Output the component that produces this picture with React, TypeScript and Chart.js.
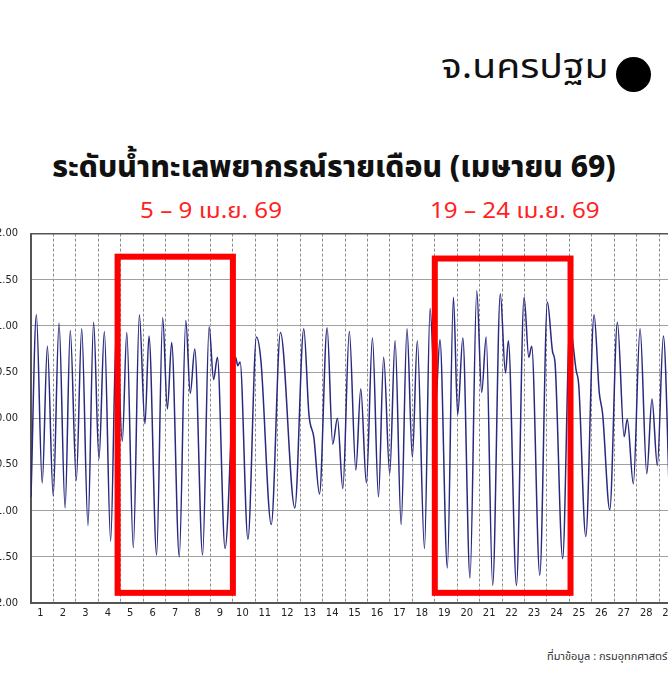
import React, { useEffect, useRef } from "react";
import { Chart, registerables } from "chart.js";

Chart.register(...registerables);

// ---- data ----
const DAY_LABELS = [
  "1", "2", "3", "4", "5", "6", "7", "8", "9", "10",
  "11", "12", "13", "14", "15", "16", "17", "18", "19", "20",
  "21", "22", "23", "24", "25", "26", "27", "28", "29", "30",
];

// time in days since 1 Apr 00:00, predicted level (m)
const TIDE_TIME = [
  0, 0.24, 0.5, 0.73, 0.99, 1.25, 1.52, 1.75, 2.02, 2.26,
  2.54, 2.79, 3.03, 3.27, 3.55, 3.81, 4.07, 4.27, 4.56, 4.83,
  5.08, 5.26, 5.6, 5.87, 6.08, 6.27, 6.61, 6.9, 7.1, 7.3,
  7.65, 7.94, 8.14, 8.31, 8.65, 9.12, 9.22, 9.32, 9.67, 10.05,
  10.25, 10.71, 11.12, 11.76, 12.16, 12.39, 12.61, 12.86, 13.2, 13.45,
  13.66, 13.9, 14.19, 14.48, 14.7, 14.95, 15.22, 15.49, 15.72, 15.99,
  16.23, 16.5, 16.76, 17.0, 17.22, 17.54, 17.79, 18.03, 18.23, 18.56,
  18.83, 19.02, 19.25, 19.57, 19.87, 20.09, 20.29, 20.58, 20.92, 21.15,
  21.28, 21.64, 21.98, 22.19, 22.32, 22.68, 23.02, 23.25, 23.36, 23.7,
  24.02, 24.3, 24.42, 24.73, 25.1, 25.33, 25.48, 25.8, 26.14, 26.44,
  26.58, 26.85, 27.15, 27.45, 27.68, 27.92, 28.19, 28.48,
];
const TIDE_LEVEL = [
  -0.85, 1.12, -0.7, 0.78, -0.84, 1.03, -0.97, 0.95, -0.67, 0.97,
  -1.16, 1.04, -0.44, 0.94, -1.33, 1.0, -0.25, 0.93, -1.4, 1.12,
  -0.06, 0.89, -1.48, 1.09, 0.1, 0.82, -1.5, 1.06, 0.27, 0.75,
  -1.48, 0.99, 0.42, 0.66, -1.41, 0.66, 0.57, 0.61, -1.31, 0.88,
  0.62, -1.15, 0.93, -0.97, 0.97, 0.04, -0.21, -0.82, 0.98, -0.28,
  0.0, -0.76, 0.94, -0.56, 0.32, -0.7, 0.87, -0.85, 0.66, -0.6,
  0.84, -1.15, 0.97, -0.42, 0.84, -1.41, 1.19, 0.15, 0.85, -1.62,
  1.31, 0.04, 0.87, -1.73, 1.38, 0.28, 0.88, -1.81, 1.35, 0.49,
  0.84, -1.81, 1.31, 0.66, 0.78, -1.7, 1.26, 0.72, 0.6, -1.52,
  1.0, 0.52, 0.35, -1.28, 1.12, 0.28, 0.05, -0.99, 1.04, -0.2,
  -0.01, -0.71, 0.97, -0.6, 0.21, -0.51, 0.89, -1.05,
];

const Y_MIN = -2;
const Y_MAX = 2;
const Y_STEP = 0.5;

// highlighted periods (days since 1 Apr) and their vertical extent (m)
const HIGHLIGHT_FROM = [3.86, 18.0];
const HIGHLIGHT_TO = [9.0, 24.05];
const HIGHLIGHT_TOP = [1.75, 1.73];
const HIGHLIGHT_BOTTOM = [-1.89, -1.89];
const HIGHLIGHT_LABELS = ["5 – 9 เม.ย. 69", "19 – 24 เม.ย. 69"];

const TITLE = "ระดับน้ำทะเลพยากรณ์รายเดือน (เมษายน 69)";
const PROVINCE = "จ.นครปฐม";
const SOURCE = "ที่มาข้อมูล : กรมอุทกศาสตร์ กองทัพเรือ";

const THAI_FONT = '"Noto Sans Thai", "Noto Sans Thai UI", "Noto Sans", "Leelawadee UI", Tahoma, sans-serif';
const TICK_FONT = '"DejaVu Sans Condensed", "DejaVu Sans", sans-serif';

const highlightPlugin = {
  id: "highlights",
  afterDatasetsDraw(chart: any) {
    const { ctx, scales } = chart;
    const x = scales.x;
    const y = scales.y;
    ctx.save();
    ctx.strokeStyle = "#ff0000";
    ctx.lineWidth = 6;
    HIGHLIGHT_FROM.forEach((from, i) => {
      const x1 = x.getPixelForValue(from);
      const x2 = x.getPixelForValue(HIGHLIGHT_TO[i]);
      const y1 = y.getPixelForValue(HIGHLIGHT_TOP[i]);
      const y2 = y.getPixelForValue(HIGHLIGHT_BOTTOM[i]);
      ctx.strokeRect(x1, y1, x2 - x1, y2 - y1);
    });
    ctx.restore();
  },
};

function TideChart() {
  const ref = useRef<HTMLCanvasElement | null>(null);
  useEffect(() => {
    if (!ref.current) return;
    const points = TIDE_TIME.map((t, i) => ({ x: t, y: TIDE_LEVEL[i] }));
    const chart = new Chart(ref.current, {
      type: "line",
      data: {
        datasets: [
          {
            data: points,
            borderColor: "#28297f",
            borderWidth: 1.5,
            pointRadius: 0,
            cubicInterpolationMode: "monotone",
            fill: false,
          },
        ],
      },
      options: {
        animation: false,
        responsive: false,
        events: [],
        layout: { padding: { top: 1, right: 16, bottom: 0, left: 0 } },
        plugins: {
          legend: { display: false },
          tooltip: { enabled: false },
        },
        scales: {
          x: {
            type: "linear",
            min: 0,
            max: DAY_LABELS.length,
            afterFit: (s: any) => {
              s.height = 21;
            },
            ticks: {
              stepSize: 1,
              autoSkip: false,
              maxRotation: 0,
              labelOffset: 9.5,
              padding: 4,
              color: "#222",
              font: { family: TICK_FONT, size: 11 },
              callback: (v: any) => DAY_LABELS[Number(v)] ?? "",
            },
            grid: {
              color: "#8c8c8c",
              lineWidth: 1,
              drawTicks: false,
            },
            border: { display: true, color: "#555", width: 2, dash: [3, 2] },
          },
          y: {
            min: Y_MIN,
            max: Y_MAX,
            afterFit: (s: any) => {
              s.width = 71;
            },
            ticks: {
              stepSize: Y_STEP,
              padding: 13,
              color: "#222",
              font: { family: TICK_FONT, size: 11 },
              callback: (v: any) => Number(v).toFixed(2),
            },
            grid: {
              color: (c: any) => (c.tick && c.tick.value === Y_MAX ? "#555" : "#a0a0a0"),
              lineWidth: (c: any) => (c.tick && c.tick.value === Y_MAX ? 1.5 : 1),
              drawTicks: false,
            },
            border: { display: true, color: "#555", width: 2 },
          },
        },
      },
      plugins: [highlightPlugin],
    });
    return () => chart.destroy();
  }, []);
  return (
    <canvas
      ref={ref}
      width={760}
      height={410}
      style={{ position: "absolute", left: -40, top: 214, width: 760, height: 410, display: "block" }}
    />
  );
}

export default function App() {
  return (
    <div
      style={{
        position: "fixed",
        left: 0,
        top: 0,
        width: 668,
        height: 676,
        overflow: "hidden",
        background: "#fff",
        fontFamily: THAI_FONT,
      }}
    >
      <div
        style={{
          position: "absolute",
          left: 441,
          top: 44,
          fontSize: 34,
          lineHeight: "48px",
          color: "#111",
          whiteSpace: "nowrap",
          transform: "scaleX(1.15)",
          transformOrigin: "left center",
        }}
      >
        {PROVINCE}
      </div>
      <div
        style={{
          position: "absolute",
          left: 616,
          top: 57,
          width: 35,
          height: 35,
          borderRadius: "50%",
          background: "#000",
        }}
      />
      <div
        style={{
          position: "absolute",
          left: 0,
          width: 668,
          top: 145,
          textAlign: "center",
          fontSize: 30,
          fontWeight: 800,
          lineHeight: "46px",
          color: "#111",
          whiteSpace: "nowrap",
        }}
      >
        {TITLE}
      </div>
      <div
        style={{
          position: "absolute",
          left: 140,
          top: 196,
          fontSize: 22,
          lineHeight: "32px",
          color: "#ff1f1f",
          whiteSpace: "nowrap",
          transform: "scaleX(1.1)",
          transformOrigin: "left center",
        }}
      >
        {HIGHLIGHT_LABELS[0]}
      </div>
      <div
        style={{
          position: "absolute",
          left: 430,
          top: 196,
          fontSize: 22,
          lineHeight: "32px",
          color: "#ff1f1f",
          whiteSpace: "nowrap",
          transform: "scaleX(1.1)",
          transformOrigin: "left center",
        }}
      >
        {HIGHLIGHT_LABELS[1]}
      </div>
      <TideChart />
      <div
        style={{
          position: "absolute",
          left: 547,
          top: 648,
          fontSize: 11,
          lineHeight: "18px",
          color: "#333",
          whiteSpace: "nowrap",
        }}
      >
        {SOURCE}
      </div>
    </div>
  );
}
